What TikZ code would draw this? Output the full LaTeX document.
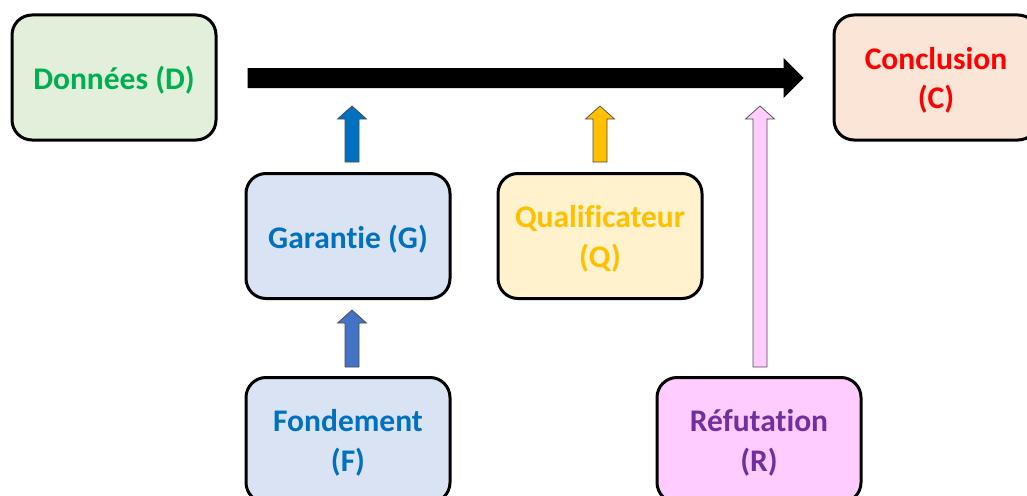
\documentclass[tikz,border=0pt]{standalone}
\usepackage{fontspec}
\setmainfont[Ligatures=NoCommon]{Carlito}
\usetikzlibrary{calc}
\definecolor{dfill}{HTML}{E2EFDA}\definecolor{dtext}{HTML}{00B050}
\definecolor{cfill}{HTML}{FBE5D6}\definecolor{ctext}{HTML}{FF0000}
\definecolor{gfill}{HTML}{DAE3F3}\definecolor{gtext}{HTML}{0070C0}
\definecolor{qfill}{HTML}{FFF2CC}\definecolor{qtext}{HTML}{FFC000}
\definecolor{rfill}{HTML}{FFCCFF}\definecolor{rtext}{HTML}{7030A0}
\definecolor{farrow}{HTML}{4472C4}
\newcommand\blkarrow[3]{%
  \path[#3] let \p1=(#1), \p2=(#2) in
    (\x1-7pt,\y1) -- (\x1-7pt,\y2-13pt) -- (\x1-14.5pt,\y2-13pt) -- (\x1,\y2)
    -- (\x1+14.5pt,\y2-13pt) -- (\x1+7pt,\y2-13pt) -- (\x1+7pt,\y1) -- cycle;}
\tikzset{
  box/.style={draw=black, line width=3pt, rounded corners=20pt,
    minimum width=204pt, minimum height=125pt, inner sep=0pt},
  boxtext/.style={align=center, inner sep=0pt, yshift=-3pt,
    font=\fontsize{31.5}{39.5}\selectfont\bfseries},
  smallarrow/.style={draw=black!70, line width=0.7pt, line join=miter}
}
\begin{document}
\begin{tikzpicture}[x=1pt,y=-1pt]
\useasboundingbox (0,0) rectangle (1027,495);
\clip (0,0) rectangle (1027,495);
\node[box, fill=dfill, label={[boxtext, text=dtext]center:Données (D)}] (D) at (114,77.5) {};
\node[box, fill=cfill, label={[boxtext, text=ctext]center:Conclusion\\(C)}] (C) at (936,77.5) {};
\node[box, fill=gfill, label={[boxtext, text=gtext]center:Garantie (G)}] (G) at (348,236) {};
\node[box, fill=qfill, label={[boxtext, text=qtext]center:Qualificateur\\(Q)}] (Q) at (600,236) {};
\node[box, fill=gfill, label={[boxtext, text=gtext]center:Fondement\\(F)}] (F) at (348,440) {};
\node[box, fill=rfill, label={[boxtext, text=rtext]center:Réfutation\\(R)}] (R) at (759,440) {};
% main arrow
\coordinate (ms) at ($(D.east)+(30,0.5)$);
\coordinate (me) at ($(C.west)+(-29,0.5)$);
\path[fill=black] let \p1=(ms), \p2=(me) in
  (\x1,\y1+10pt) -- (\x2-20pt,\y1+10pt) -- (\x2-20pt,\y1+20pt) -- (\x2,\y1)
  -- (\x2-20pt,\y1-20pt) -- (\x2-20pt,\y1-10pt) -- (\x1,\y1-10pt) -- cycle;
% small arrows
\coordinate (gb) at ($(G.north)+(4,-10)$);
\coordinate (gt) at ($(G.north |- ms)+(4,28)$);
\coordinate (qb) at ($(Q.north)+(0,-10)$);
\coordinate (qt) at ($(Q.north |- ms)+(0,28)$);
\coordinate (rb) at ($(R.north)+(1,-9)$);
\coordinate (rt) at ($(R.north |- ms)+(1,28)$);
\coordinate (fb) at ($(F.north)+(4,-9)$);
\coordinate (ft) at ($(G.south)+(4,10)$);
\blkarrow{gb}{gt}{smallarrow, fill=gtext}
\blkarrow{qb}{qt}{smallarrow, fill=qtext}
\blkarrow{rb}{rt}{smallarrow, fill=rfill}
\blkarrow{fb}{ft}{smallarrow, fill=farrow}
\end{tikzpicture}
\end{document}
